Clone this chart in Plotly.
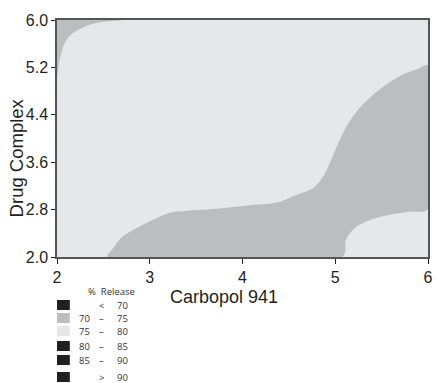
import plotly.graph_objects as go

# ---- data ----
x_range = [2, 6]
y_range = [2.0, 6.0]
x_ticks = [2, 3, 4, 5, 6]
y_ticks = [2.0, 2.8, 3.6, 4.4, 5.2, 6.0]

# upper boundary of the 70-75 band (left to right)
band_upper_x = [2.546, 2.617, 2.705, 2.848, 3.025, 3.20, 3.415, 3.63, 3.875, 4.12, 4.37,
                4.585, 4.76, 4.87, 4.957, 5.046, 5.15, 5.295, 5.47, 5.68, 5.90, 6.0]
band_upper_y = [2.0, 2.17, 2.34, 2.48, 2.62, 2.74, 2.78, 2.80, 2.84, 2.88, 2.92,
                3.05, 3.16, 3.36, 3.64, 3.97, 4.28, 4.57, 4.82, 5.04, 5.18, 5.23]
# lower boundary of the 70-75 band (left to right)
band_lower_x = [5.074, 5.117, 5.205, 5.365, 5.578, 5.79, 6.0]
band_lower_y = [2.0, 2.29, 2.48, 2.62, 2.71, 2.765, 2.81]
# boundary of the 70-75 region in the top-left corner
corner_x = [2.0, 2.025, 2.05, 2.10, 2.19, 2.32, 2.46, 2.56, 2.74]
corner_y = [5.02, 5.30, 5.47, 5.66, 5.80, 5.90, 5.96, 5.98, 6.0]

legend_lo = ["", "70", "75", "80", "85", ""]
legend_mid = ["<", "\u2013", "\u2013", "\u2013", "\u2013", ">"]
legend_hi = ["70", "75", "80", "85", "90", "90"]

C_LIGHT = "#e6e7e9"
C_MID = "#bcbdc0"
C_DARK = "#231f20"
legend_colors = [C_DARK, C_MID, C_LIGHT, C_DARK, C_DARK, C_DARK]

fig = go.Figure()

# band polygon: upper curve, down the right edge, lower curve reversed, back along the bottom
bx = band_upper_x + band_lower_x[::-1] + [band_upper_x[0]]
by = band_upper_y + band_lower_y[::-1] + [band_upper_y[0]]
fig.add_trace(go.Scatter(x=bx, y=by, mode="lines", fill="toself", fillcolor=C_MID,
                         line=dict(width=0, color=C_MID, shape="spline", smoothing=1.0),
                         hoverinfo="skip", showlegend=False))

cx = corner_x + [x_range[0], x_range[0]]
cy = corner_y + [y_range[1], corner_y[0]]
fig.add_trace(go.Scatter(x=cx, y=cy, mode="lines", fill="toself", fillcolor=C_MID,
                         line=dict(width=0, color=C_MID, shape="spline", smoothing=0.8),
                         hoverinfo="skip", showlegend=False))

axis_font = dict(family="Liberation Sans, Arial, sans-serif", size=16, color="#231f20")
fig.update_xaxes(range=x_range, tickvals=x_ticks, ticktext=[str(v) for v in x_ticks],
                 showgrid=False, zeroline=False, showline=True, linecolor="#555555", linewidth=1.5,
                 mirror=True, ticks="outside", ticklen=5, tickcolor="#231f20",
                 tickfont=axis_font)
fig.update_yaxes(range=y_range, tickvals=y_ticks, ticktext=[f"{v:.1f}" for v in y_ticks],
                 showgrid=False, zeroline=False, showline=True, linecolor="#555555", linewidth=1.5,
                 mirror=True, ticks="outside", ticklen=4, tickcolor="#231f20",
                 tickfont=axis_font)

W, H = 437, 383
L, R, T, B = 57, 4, 20, 126
pw, ph = W - L - R, H - T - B

def px2paper(px, py):
    return (px - L) / pw, (H - B - py) / ph

tx_, ty_ = px2paper(226, 297)
annotations = [
    dict(text="Carbopol 941", xref="paper", yref="paper", x=tx_, y=ty_,
         xanchor="center", yanchor="middle", showarrow=False, height=20,
         font=dict(family="Liberation Sans, Arial, sans-serif", size=18, color="#231f20")),
    dict(text="Drug Complex", xref="paper", yref="paper", x=-0.108, y=0.42,
         xanchor="center", yanchor="middle", showarrow=False, textangle=-90,
         font=dict(family="Liberation Sans, Arial, sans-serif", size=18.5, color="#231f20")),
]
shapes = []

leg_font = dict(family="Open Sans, DejaVu Sans, sans-serif", size=9.5, color="#333333")
hx, hy = px2paper(112, 291)
annotations.append(dict(text="%  Release", xref="paper", yref="paper", x=hx, y=hy,
                        xanchor="center", yanchor="middle", showarrow=False, height=11,
                        font=leg_font))
row_y = [305, 318, 331, 346, 360, 377]
for i, ry in enumerate(row_y):
    x0, y0 = px2paper(57, ry - 5)
    x1, y1 = px2paper(70, ry + 5)
    shapes.append(dict(type="rect", xref="paper", yref="paper", x0=x0, x1=x1, y0=y1, y1=y0,
                       fillcolor=legend_colors[i], line=dict(width=0)))
    for txt, tx in ((legend_lo[i], 85), (legend_mid[i], 102), (legend_hi[i], 123)):
        if txt:
            ax, ay = px2paper(tx, ry)
            annotations.append(dict(text=txt, xref="paper", yref="paper", x=ax, y=ay,
                                    xanchor="center", yanchor="middle", showarrow=False,
                                    height=11, font=leg_font))

fig.update_layout(width=W, height=H, margin=dict(l=L, r=R, t=T, b=B),
                  plot_bgcolor=C_LIGHT, paper_bgcolor="white",
                  annotations=annotations, shapes=shapes, showlegend=False)

fig.write_html("out.html")
